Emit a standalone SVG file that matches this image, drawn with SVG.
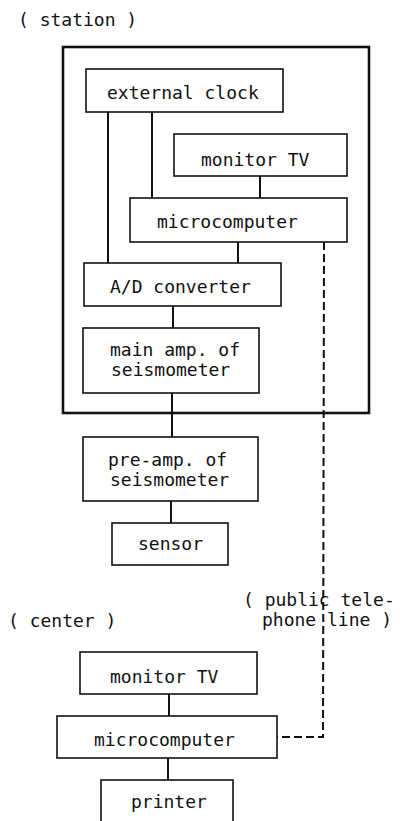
<svg xmlns="http://www.w3.org/2000/svg" width="400" height="821" viewBox="0 0 400 821">
  <style>
    .box { fill: #fff; stroke: #111; stroke-width: 1.6; }
    .frame { fill: none; stroke: #111; stroke-width: 2.6; }
    .wire { fill: none; stroke: #111; stroke-width: 2; }
    .dash { fill: none; stroke: #111; stroke-width: 2; stroke-dasharray: 8 4; }
    text { font-family: "DejaVu Sans Mono", "Liberation Mono", monospace; font-size: 18px; fill: #111; }
  </style>
  <rect width="400" height="821" fill="#fff"/>

  <!-- section labels -->
  <text x="18" y="26">( station )</text>
  <text x="8" y="627">( center )</text>
  <text x="243" y="606">( public tele-<tspan x="262" dy="19.5">phone line )</tspan></text>

  <!-- station enclosure -->
  <rect id="station-frame" class="frame" x="63" y="47" width="306" height="366"/>

  <!-- connectors -->
  <g id="connectors">
    <line class="wire" x1="108" y1="112" x2="108" y2="263"/>
    <line class="wire" x1="152" y1="112" x2="152" y2="198"/>
    <line class="wire" x1="260" y1="176" x2="260" y2="198"/>
    <line class="wire" x1="238" y1="242" x2="238" y2="263"/>
    <line class="wire" x1="173" y1="306" x2="173" y2="328"/>
    <line class="wire" x1="172" y1="393" x2="172" y2="437"/>
    <line class="wire" x1="171" y1="501" x2="171" y2="523"/>
    <line class="wire" x1="169" y1="694" x2="169" y2="716"/>
    <line class="wire" x1="168" y1="758" x2="168" y2="780"/>
    <polyline class="dash" points="324,242 323,737 277,737"/>
  </g>

  <g id="external-clock">
    <rect class="box" x="86" y="69" width="197" height="43"/>
    <text x="107" y="99">external clock</text>
  </g>
  <g id="station-monitor-tv">
    <rect class="box" x="174" y="134" width="173" height="42"/>
    <text x="201" y="166">monitor TV</text>
  </g>
  <g id="station-microcomputer">
    <rect class="box" x="130" y="198" width="217" height="44"/>
    <text x="157" y="228">microcomputer</text>
  </g>
  <g id="ad-converter">
    <rect class="box" x="84" y="263" width="197" height="43"/>
    <text x="110" y="293">A/D converter</text>
  </g>
  <g id="main-amp">
    <rect class="box" x="83" y="328" width="176" height="65"/>
    <text x="110" y="356">main amp. of<tspan x="111" dy="19.5">seismometer</tspan></text>
  </g>
  <g id="pre-amp">
    <rect class="box" x="83" y="437" width="175" height="64"/>
    <text x="108" y="466">pre-amp. of<tspan x="110" dy="19.5">seismometer</tspan></text>
  </g>
  <g id="sensor">
    <rect class="box" x="112" y="523" width="116" height="42"/>
    <text x="138" y="550">sensor</text>
  </g>
  <g id="center-monitor-tv">
    <rect class="box" x="80" y="652" width="177" height="42"/>
    <text x="110" y="683">monitor TV</text>
  </g>
  <g id="center-microcomputer">
    <rect class="box" x="57" y="716" width="220" height="42"/>
    <text x="94" y="746">microcomputer</text>
  </g>
  <g id="printer">
    <rect class="box" x="101" y="780" width="132" height="60"/>
    <text x="131" y="808">printer</text>
  </g>
</svg>
